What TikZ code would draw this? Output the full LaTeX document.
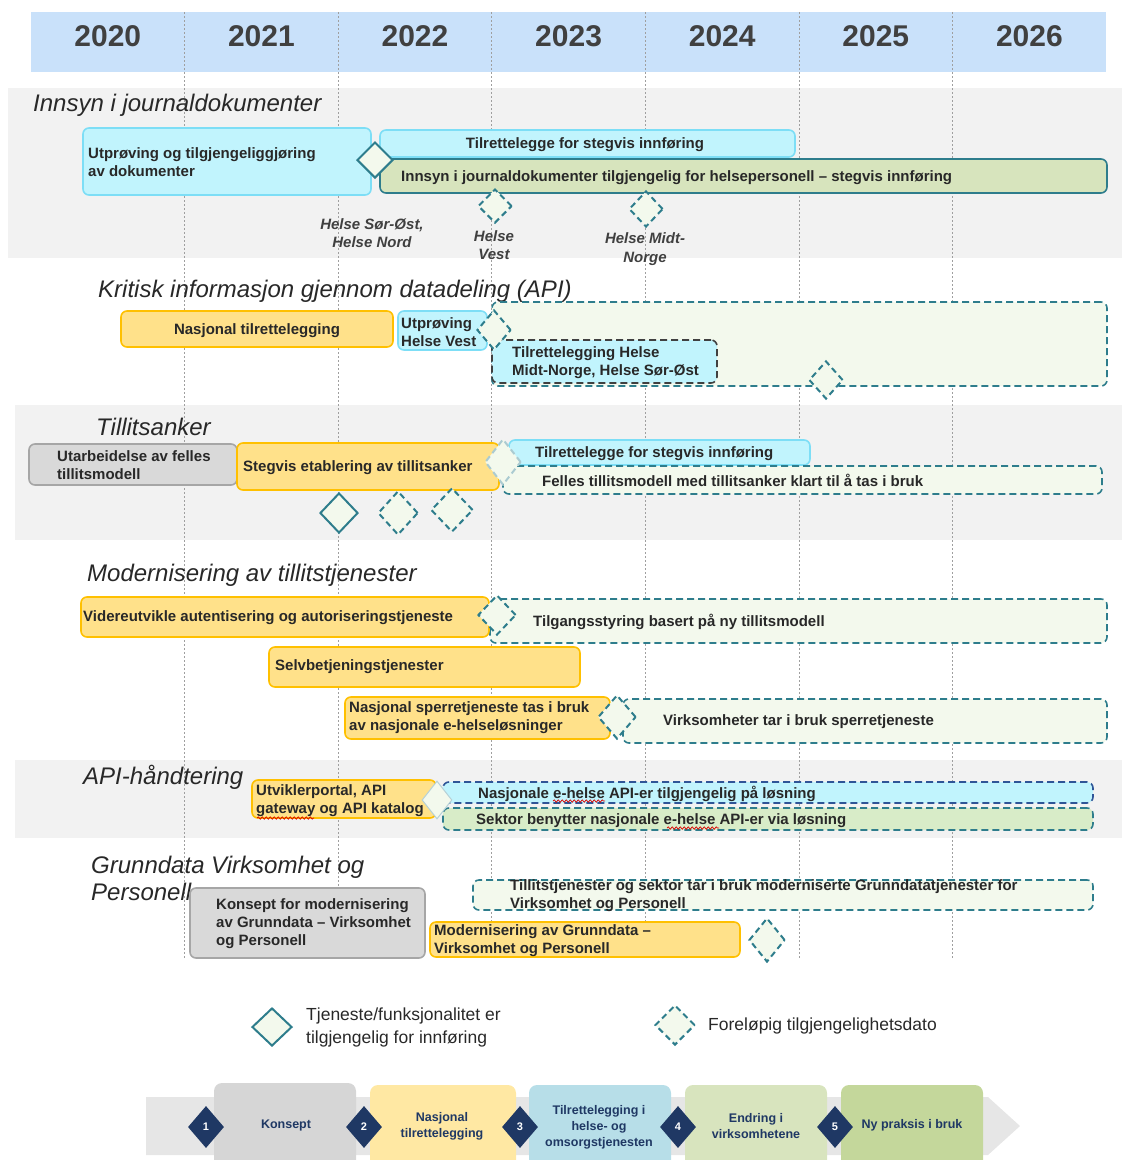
\documentclass[tikz,border=0pt]{standalone}
\usepackage{fontspec}
\setmainfont{Liberation Sans}
\usetikzlibrary{shapes.geometric,decorations.pathmorphing}
\definecolor{hdr}{RGB}{201,225,250}
\definecolor{secbg}{RGB}{242,242,242}
\definecolor{yrc}{RGB}{64,64,64}
\definecolor{txt}{RGB}{40,40,40}
\definecolor{cyanf}{RGB}{193,244,253}
\definecolor{cyand}{RGB}{125,222,246}
\definecolor{yelf}{RGB}{255,225,138}
\definecolor{yeld}{RGB}{255,192,0}
\definecolor{grayf}{RGB}{217,217,217}
\definecolor{grayd}{RGB}{166,166,166}
\definecolor{olivef}{RGB}{215,228,189}
\definecolor{tealc}{RGB}{46,125,140}
\definecolor{dashf}{RGB}{243,249,237}
\definecolor{apigreen}{RGB}{216,236,200}
\definecolor{apiblue}{RGB}{47,85,151}
\definecolor{navy}{RGB}{31,56,100}
\definecolor{bandc}{RGB}{230,230,230}
\definecolor{bkons}{RGB}{214,214,214}
\definecolor{bnas}{RGB}{255,232,163}
\definecolor{btil}{RGB}{183,222,232}
\definecolor{bend}{RGB}{216,228,190}
\definecolor{bny}{RGB}{196,215,155}
\tikzset{
 box/.style={rounded corners=6pt, line width=1.6pt, outer sep=0pt, inner sep=0pt, anchor=north west},
 cyanbox/.style={box, fill=cyanf, draw=cyand},
 yelbox/.style={box, fill=yelf, draw=yeld},
 graybox/.style={box, fill=grayf, draw=grayd},
 olivebox/.style={box, fill=olivef, draw=tealc},
 dashbox/.style={box, fill=dashf, draw=tealc, dash pattern=on 7pt off 4pt},
 btxt/.style={font=\bfseries\fontsize{15}{18}\selectfont, text=txt, align=left, inner sep=0pt, anchor=west, yshift=-1.5pt},
 ttl/.style={font=\itshape\fontsize{24}{27}\selectfont, text=txt, anchor=west, inner sep=0pt, align=left, yshift=-1.5pt},
 lbl/.style={font=\bfseries\itshape\fontsize{15}{18.5}\selectfont, text=yrc, align=center, inner sep=0pt},
 dia/.style={diamond, inner sep=0pt, fill=dashf, draw=tealc, line width=2pt},
 ddia/.style={dia, dash pattern=on 6pt off 4pt},
 vline/.style={gray!75, line width=0.8pt, dash pattern=on 2pt off 2pt},
 bartxt/.style={font=\bfseries\fontsize{12.5}{16}\selectfont, text=navy, align=center, inner sep=0pt},
 navydia/.style={diamond, fill=navy, inner sep=0pt, minimum width=36pt, minimum height=42pt, font=\bfseries\fontsize{11}{11}\selectfont, text=white},
 stepbox/.style={box, draw=none, rounded corners=8pt},
 legtxt/.style={font=\fontsize{17.5}{23}\selectfont, text=txt, align=left, inner sep=0pt, anchor=west, yshift=-1pt},
 squig/.style={red!85!black, line width=0.7pt, decorate, decoration={snake, amplitude=1.2pt, segment length=4pt}},
}
\newcommand\bx[6]{\node[#1, minimum width={#4-#2}, minimum height={#5-#3}] (#6) at (#2,#3) {};}
\begin{document}
\begin{tikzpicture}[x=1pt,y=-1pt]
\useasboundingbox (0,0) rectangle (1122,1160);
% section backgrounds
\fill[secbg] (8,88) rectangle (1122,258);
\fill[secbg] (15,405) rectangle (1122,540);
\fill[secbg] (15,760) rectangle (1122,838);
% header
\fill[hdr] (31,12) rectangle (1106,72);
\foreach \i in {1,...,6} \draw[vline] ({31+153.6*\i},12) -- ({31+153.6*\i},958);
\foreach \yy [count=\i from 0] in {2020,2021,2022,2023,2024,2025,2026}
  \node[font=\bfseries\fontsize{30}{30}\selectfont, text=yrc] (year\yy) at ({107.8+153.6*\i},36) {\yy};

% ---- Section 1
\node[ttl] (t1) at (33,104) {Innsyn i journaldokumenter};
\bx{cyanbox}{83}{128}{371}{195}{a1}
\node[btxt] (a1t) at (88,161) {Utprøving og tilgjengeliggjøring\\av dokumenter};
\bx{cyanbox}{380}{130}{795}{157}{a2}
\node[btxt, anchor=center] (a2t) at (585,143) {Tilrettelegge for stegvis innføring};
\bx{olivebox}{380}{159}{1107}{193}{a3}
\node[btxt] (a3t) at (401,176) {Innsyn i journaldokumenter tilgjengelig for helsepersonell – stegvis innføring};
\node[dia, minimum width=36pt, minimum height=36pt] (a4) at (375,160) {};
\node[ddia, minimum width=34pt, minimum height=34pt] (a5) at (495,206) {};
\node[ddia, minimum width=34pt, minimum height=36pt] (a6) at (646,209) {};
\node[lbl] (a7) at (372,233) {Helse Sør-Øst,\\Helse Nord};
\node[lbl] (a8) at (494,245) {Helse\\Vest};
\node[lbl] (a9) at (645,249) {Helse Midt-\\Norge};

% ---- Section 2
\node[ttl] (t2) at (98,290) {Kritisk informasjon gjennom datadeling (API)};
\bx{yelbox}{121}{311}{393}{347}{b1}
\node[btxt, anchor=center] (b1t) at (257,329) {Nasjonal tilrettelegging};
\bx{cyanbox}{398}{311}{487}{350}{b2}
\node[btxt] (b2t) at (401,331) {Utprøving\\Helse Vest};
\bx{dashbox}{492}{302}{1107}{386}{b3}
\bx{cyanbox, draw=black!75, dash pattern=on 7pt off 4pt}{492}{340}{717}{383}{b4}
\node[btxt] (b4t) at (512,361) {Tilrettelegging Helse\\Midt-Norge, Helse  Sør-Øst};
\node[ddia, minimum width=34pt, minimum height=40pt] (b5) at (494,330) {};
\node[ddia, minimum width=34pt, minimum height=38pt] (b6) at (826,380) {};

% ---- Section 3
\node[ttl] (t3) at (96,425) {Tillitsanker};
\bx{graybox}{29}{444}{237}{485}{c1}
\node[btxt] (c1t) at (57,464) {Utarbeidelse av felles\\tillitsmodell};
\bx{yelbox}{237}{443}{499}{490}{c2}
\node[btxt] (c2t) at (243,466) {Stegvis etablering av tillitsanker};
\bx{cyanbox}{509}{440}{810}{465}{c3}
\node[btxt] (c3t) at (535,452) {Tilrettelegge for stegvis innføring};
\bx{dashbox}{503}{466}{1102}{494}{c4}
\node[btxt] (c4t) at (542,479) {Felles tillitsmodell med tillitsanker klart til å tas i bruk};
\node[ddia, draw=tealc!40, minimum width=36pt, minimum height=46pt] (c5) at (503,462) {};
\node[dia, minimum width=38pt, minimum height=40pt] (c6) at (339,513) {};
\node[ddia, minimum width=40pt, minimum height=44pt] (c7) at (398,513) {};
\node[ddia, minimum width=42pt, minimum height=44pt] (c8) at (452,510) {};

% ---- Section 4
\node[ttl] (t4) at (87,574) {Modernisering av tillitstjenester};
\bx{dashbox}{490}{599}{1107}{643}{d2}
\bx{yelbox}{81}{597}{489}{637}{d1}
\node[btxt] (d1t) at (83,616) {Videreutvikle autentisering og autoriseringstjeneste};
\node[btxt] (d2t) at (533,620) {Tilgangsstyring basert på ny tillitsmodell};
\node[ddia, minimum width=38pt, minimum height=40pt] (d3) at (497,615) {};
\bx{yelbox}{269}{647}{580}{687}{d4}
\node[btxt] (d4t) at (275,665) {Selvbetjeningstjenester};
\bx{dashbox}{623}{699}{1107}{743}{d6}
\bx{yelbox}{345}{697}{610}{739}{d5}
\node[btxt] (d5t) at (349,716) {Nasjonal sperretjeneste tas i bruk\\av nasjonale e-helseløsninger};
\node[btxt] (d6t) at (663,720) {Virksomheter tar i bruk sperretjeneste};
\node[ddia, minimum width=38pt, minimum height=44pt] (d7) at (617,717) {};

% ---- Section 5
\node[ttl] (t5) at (83,776) {API-håndtering};
\bx{yelbox}{252}{780}{436}{818}{e1}
\node[btxt] (e1t) at (256,799) {Utviklerportal, API\\gateway og API katalog};
\bx{box, fill=cyanf, draw=apiblue, dash pattern=on 7pt off 4pt}{443}{782}{1093}{803}{e2}
\node[btxt] (e2t) at (478,792) {Nasjonale e-helse API-er tilgjengelig på løsning};
\bx{box, fill=apigreen, draw=tealc, dash pattern=on 7pt off 4pt}{443}{808}{1093}{830}{e3}
\node[btxt] (e3t) at (476,819) {Sektor benytter nasjonale e-helse API-er via løsning};
\node[dia, draw=tealc!35, line width=1pt, minimum width=30pt, minimum height=38pt] (e4) at (437,800) {};
\draw[squig] (553,801) -- (605,801);
\draw[squig] (667,828) -- (719,828);
\draw[squig] (257,818) -- (314,818);

% ---- Section 6
\node[ttl] (t6) at (91,877) {Grunndata Virksomhet og\\Personell};
\bx{dashbox}{473}{880}{1093}{910}{f3}
\node[btxt] (f3t) at (510,894) {Tillitstjenester og sektor tar i bruk moderniserte Grunndatatjenester for\\Virksomhet og Personell};
\bx{graybox}{190}{888}{425}{958}{f1}
\node[btxt] (f1t) at (216,922) {Konsept for modernisering\\av Grunndata – Virksomhet\\og Personell};
\bx{yelbox}{430}{922}{740}{957}{f2}
\node[btxt] (f2t) at (434,939) {Modernisering av Grunndata –\\Virksomhet og Personell};
\node[ddia, minimum width=36pt, minimum height=44pt] (f4) at (767,940) {};

% ---- Legend
\node[dia, minimum width=40pt, minimum height=38pt] (g1) at (272,1027) {};
\node[legtxt] (g1t) at (306,1026) {Tjeneste/funksjonalitet er\\tilgjengelig for innføring};
\node[ddia, minimum width=40pt, minimum height=40pt] (g2) at (675,1025) {};
\node[legtxt] (g2t) at (708,1025) {Foreløpig tilgjengelighetsdato};

% ---- Bottom bar
\fill[bandc] (146,1097) -- (988,1097) -- (1020,1126) -- (988,1155) -- (146,1155) -- cycle;
\bx{stepbox, fill=bkons}{214}{1083}{356}{1175}{s1}
\bx{stepbox, fill=bnas}{370}{1085}{516}{1175}{s2}
\bx{stepbox, fill=btil}{529}{1085}{671}{1175}{s3}
\bx{stepbox, fill=bend}{685}{1085}{827}{1175}{s4}
\bx{stepbox, fill=bny}{841}{1085}{983}{1175}{s5}
\node[bartxt] (s1t) at (286,1125) {Konsept};
\node[bartxt] (s2t) at (442,1126) {Nasjonal\\tilrettelegging};
\node[bartxt] (s3t) at (599,1127) {Tilrettelegging i\\helse- og\\omsorgstjenesten};
\node[bartxt] (s4t) at (756,1126) {Endring i\\virksomhetene};
\node[bartxt] (s5t) at (912,1125) {Ny praksis i bruk};
\node[navydia] (n1) at (206,1127) {1};
\node[navydia] (n2) at (364,1127) {2};
\node[navydia] (n3) at (520,1127) {3};
\node[navydia] (n4) at (678,1127) {4};
\node[navydia] (n5) at (835,1127) {5};
\end{tikzpicture}
\end{document}
